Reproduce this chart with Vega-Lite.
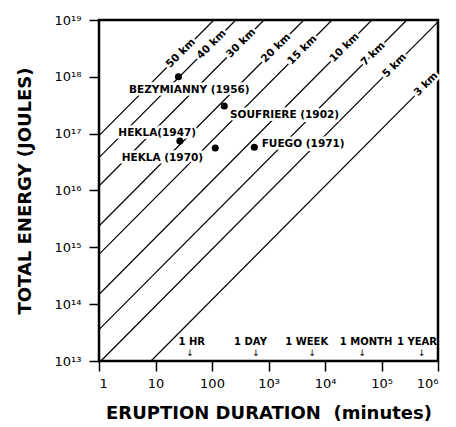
{
  "$schema": "https://vega.github.io/schema/vega-lite/v6.json",
  "width": 339,
  "height": 341,
  "autosize": {"type": "none"},
  "padding": {"left": 99, "top": 20, "right": 18, "bottom": 66},
  "background": "white",
  "config": {
    "font": "DejaVu Sans",
    "view": {"stroke": "black", "strokeWidth": 2.5},
    "axis": {"domain": false, "grid": false, "tickColor": "black", "tickWidth": 1.5, "tickSize": 10, "labelColor": "black", "labelFontSize": 13, "titleColor": "black", "titleFontWeight": "bold", "titleFontSize": 18}
  },
  "datasets": {
    "lines": [
      {"h": "3", "t": 8.33, "E": 1e13}, {"h": "3", "t": 1e6, "E": 1.2e18},
      {"h": "5", "t": 1.08, "E": 1e13}, {"h": "5", "t": 1e6, "E": 9.26e18},
      {"h": "7", "t": 1, "E": 3.56e13}, {"h": "7", "t": 281000, "E": 1e19},
      {"h": "10", "t": 1, "E": 1.48e14}, {"h": "10", "t": 67600, "E": 1e19},
      {"h": "15", "t": 1, "E": 7.5e14}, {"h": "15", "t": 13333, "E": 1e19},
      {"h": "20", "t": 1, "E": 2.37e15}, {"h": "20", "t": 4219, "E": 1e19},
      {"h": "30", "t": 1, "E": 1.2e16}, {"h": "30", "t": 833, "E": 1e19},
      {"h": "40", "t": 1, "E": 3.79e16}, {"h": "40", "t": 264, "E": 1e19},
      {"h": "50", "t": 1, "E": 9.26e16}, {"h": "50", "t": 108, "E": 1e19}
    ],
    "kmlabels": [
      {"label": "50 km", "t": 28, "E": 2.6e18},
      {"label": "40 km", "t": 98, "E": 3.7e18},
      {"label": "30 km", "t": 326, "E": 3.9e18},
      {"label": "20 km", "t": 1358, "E": 3.2e18},
      {"label": "15 km", "t": 3950, "E": 2.96e18},
      {"label": "10 km", "t": 22100, "E": 3.27e18},
      {"label": "7 km", "t": 70800, "E": 2.52e18},
      {"label": "5 km", "t": 170000, "E": 1.57e18},
      {"label": "3 km", "t": 613000, "E": 7.4e17}
    ],
    "points": [
      {"name": "Bezymianny", "t": 25.5, "E": 1e18},
      {"name": "Soufriere", "t": 165, "E": 3.06e17},
      {"name": "Hekla 1947", "t": 27, "E": 7.4e16},
      {"name": "Hekla 1970", "t": 114, "E": 5.6e16},
      {"name": "Fuego", "t": 561, "E": 5.75e16}
    ],
    "pointlabels": [
      {"label": "BEZYMIANNY (1956)", "t": 3.4, "E": 5.9e17},
      {"label": "SOUFRIERE (1902)", "t": 208, "E": 2.12e17},
      {"label": "HEKLA(1947)", "t": 2.2, "E": 1.04e17},
      {"label": "HEKLA (1970)", "t": 2.52, "E": 3.77e16},
      {"label": "FUEGO (1971)", "t": 758, "E": 6.5e16}
    ],
    "times": [
      {"label": "1 HR", "tl": 43.7, "ta": 40.8, "El": 2.17e13, "Ea": 1.38e13},
      {"label": "1 DAY", "tl": 480, "ta": 601, "El": 2.17e13, "Ea": 1.38e13},
      {"label": "1 WEEK", "tl": 4740, "ta": 5960, "El": 2.17e13, "Ea": 1.38e13},
      {"label": "1 MONTH", "tl": 53200, "ta": 45700, "El": 2.17e13, "Ea": 1.38e13},
      {"label": "1 YEAR", "tl": 425000, "ta": 515000, "El": 2.17e13, "Ea": 1.38e13}
    ]
  },
  "layer": [
    {
      "data": {"name": "lines"},
      "mark": {"type": "line", "color": "black", "strokeWidth": 1.2},
      "encoding": {
        "x": {"field": "t", "type": "quantitative", "scale": {"type": "log", "domain": [1, 1000000]},
          "axis": {"values": [1, 10, 100, 1000, 10000, 100000, 1000000], "labelPadding": 6, "titlePadding": 14,
            "title": "ERUPTION DURATION \u00a0(minutes)",
            "labelExpr": "datum.value < 1000 ? format(datum.value, 'd') : '10' + ['\u00b3','\u2074','\u2075','\u2076'][round(log(datum.value)/LN10) - 3]"}},
        "y": {"field": "E", "type": "quantitative", "scale": {"type": "log", "domain": [1e13, 1e19]},
          "axis": {"values": [1e13, 1e14, 1e15, 1e16, 1e17, 1e18, 1e19], "labelPadding": 8, "titlePadding": 20,
            "title": "TOTAL ENERGY (JOULES)",
            "labelExpr": "'10' + ['\u00b9\u00b3','\u00b9\u2074','\u00b9\u2075','\u00b9\u2076','\u00b9\u2077','\u00b9\u2078','\u00b9\u2079'][round(log(datum.value)/LN10) - 13]"}},
        "detail": {"field": "h"},
        "order": {"field": "t", "type": "quantitative"}
      }
    },
    {
      "data": {"name": "kmlabels"},
      "mark": {"type": "text", "angle": -45, "fontSize": 10.5, "fontWeight": "bold", "fill": "white", "stroke": "white", "strokeWidth": 5, "align": "center", "baseline": "middle"},
      "encoding": {"x": {"field": "t", "type": "quantitative"}, "y": {"field": "E", "type": "quantitative"}, "text": {"field": "label"}}
    },
    {
      "data": {"name": "kmlabels"},
      "mark": {"type": "text", "angle": -45, "fontSize": 10.5, "fontWeight": "bold", "fill": "black", "align": "center", "baseline": "middle"},
      "encoding": {"x": {"field": "t", "type": "quantitative"}, "y": {"field": "E", "type": "quantitative"}, "text": {"field": "label"}}
    },
    {
      "data": {"name": "pointlabels"},
      "mark": {"type": "text", "fontSize": 10.5, "fontWeight": "bold", "fill": "white", "stroke": "white", "strokeWidth": 5, "align": "left", "baseline": "middle"},
      "encoding": {"x": {"field": "t", "type": "quantitative"}, "y": {"field": "E", "type": "quantitative"}, "text": {"field": "label"}}
    },
    {
      "data": {"name": "pointlabels"},
      "mark": {"type": "text", "fontSize": 10.5, "fontWeight": "bold", "fill": "black", "align": "left", "baseline": "middle"},
      "encoding": {"x": {"field": "t", "type": "quantitative"}, "y": {"field": "E", "type": "quantitative"}, "text": {"field": "label"}}
    },
    {
      "data": {"name": "points"},
      "mark": {"type": "circle", "color": "black", "opacity": 1, "size": 50},
      "encoding": {"x": {"field": "t", "type": "quantitative"}, "y": {"field": "E", "type": "quantitative"}}
    },
    {
      "data": {"name": "times"},
      "mark": {"type": "text", "fontSize": 10, "fontWeight": "bold", "fill": "black", "align": "center", "baseline": "middle"},
      "encoding": {"x": {"field": "tl", "type": "quantitative"}, "y": {"field": "El", "type": "quantitative"}, "text": {"field": "label"}}
    },
    {
      "data": {"name": "times"},
      "mark": {"type": "text", "fontSize": 9, "fill": "black", "align": "center", "baseline": "middle", "text": "\u2193"},
      "encoding": {"x": {"field": "ta", "type": "quantitative"}, "y": {"field": "Ea", "type": "quantitative"}}
    }
  ]
}
